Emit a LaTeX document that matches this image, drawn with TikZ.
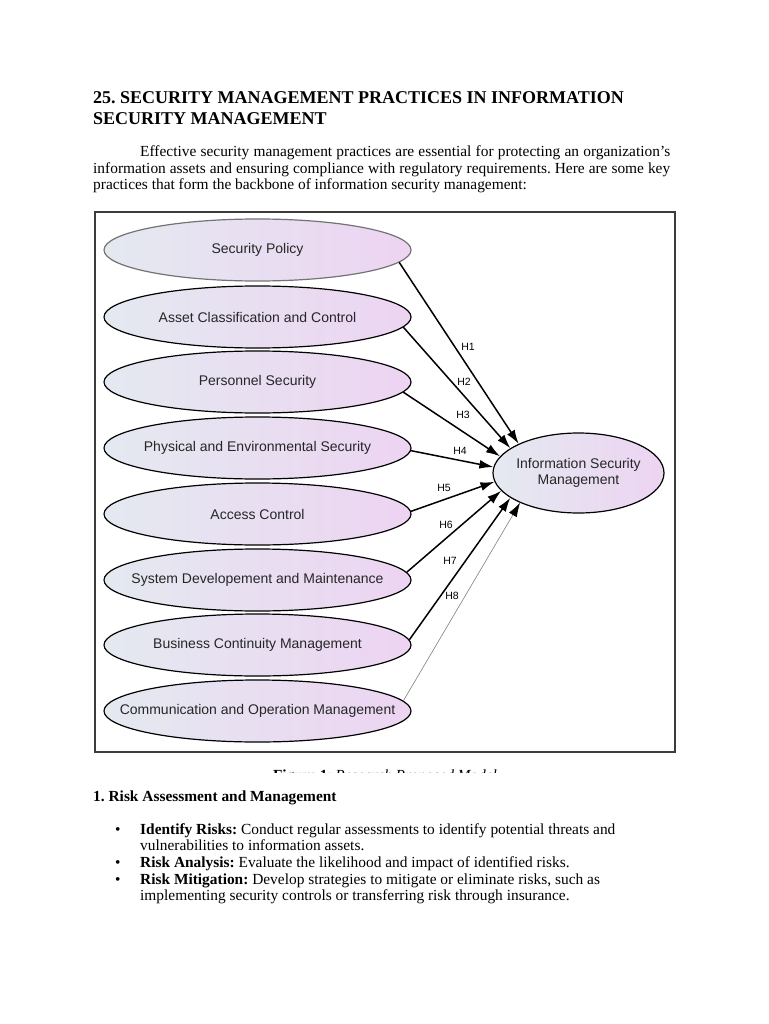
\documentclass[tikz,border=0pt]{standalone}
\usepackage{fontspec}
\setmainfont{Liberation Serif}
\newfontfamily\arialf{Liberation Sans}
\usetikzlibrary{shapes.geometric,arrows.meta}
\definecolor{lcol}{RGB}{228,233,240}
\definecolor{rcol}{RGB}{237,212,242}
\definecolor{boxcol}{RGB}{60,60,60}
\frenchspacing
\begin{document}
\begin{tikzpicture}[x=1pt,y=-1pt,
  body/.style={anchor=base west,inner sep=0,font=\fontsize{15.4}{17}\selectfont},
  ttl/.style={anchor=base west,inner sep=0,font=\fontsize{18}{21}\selectfont\bfseries},
  oval/.style={ellipse,draw=black,line width=1.2pt,minimum width=307pt,minimum height=62pt,inner sep=0,
    left color=lcol,right color=rcol,font=\arialf\fontsize{14}{16}\selectfont,text=black!85},
  bigoval/.style={ellipse,draw=black,line width=1.2pt,minimum width=171pt,minimum height=80pt,inner sep=0,
    left color=lcol,right color=rcol,font=\arialf\fontsize{14}{16}\selectfont,text=black!85,align=center},
  tip/.style={-{Latex[length=14pt,width=9pt,color=black]}},
  arr/.style={tip,line width=1.5pt},
  lbl/.style={inner sep=0,font=\arialf\fontsize{10.5}{12}\selectfont}]
\useasboundingbox[fill=white] (0,0) rectangle (768,1024);

% title
\node[ttl] (t1) at (93,104) {25. SECURITY MANAGEMENT PRACTICES IN INFORMATION};
\node[ttl] (t2) at (93,125) {SECURITY MANAGEMENT};

% paragraph
\node[body] (p1) at (140,157) {\makebox[530pt][s]{Effective security management practices are essential for protecting an organization’s}};
\node[body] (p2) at (93,173.5) {\makebox[577pt][s]{information assets and ensuring compliance with regulatory requirements. Here are some key}};
\node[body] (p3) at (93,190) {practices that form the backbone of information security management:};

% figure frame
\draw[boxcol,line width=2pt] (95,212) rectangle (675,752);

% ovals
\node[oval,draw=black!55] (sp) at (257.5,250) {\makebox[0pt]{Security Policy}};
\node[oval] (ac) at (257.5,317) {\makebox[0pt]{Asset Classification and Control}};
\node[oval] (ps) at (257.5,382) {\makebox[0pt]{Personnel Security}};
\node[oval] (pe) at (257.5,448) {\makebox[0pt]{Physical and Environmental Security}};
\node[oval] (acc) at (257.5,514) {\makebox[0pt]{Access Control}};
\node[oval] (sd) at (257.5,580) {\makebox[0pt]{System Developement and Maintenance}};
\node[oval] (bc) at (257.5,645) {\makebox[0pt]{Business Continuity Management}};
\node[oval] (co) at (257.5,711) {\makebox[0pt]{Communication and Operation Management}};
\node[bigoval] (ism) at (578.5,473) {\makebox[0pt]{Information Security}\\\makebox[0pt]{Management}};

% arrows
\draw[arr] (sp.-5) -- (ism.154);
\draw[arr] (ac.-4.5) -- (ism.160);
\draw[arr] (ps.-4) -- (ism.168);
\draw[arr] (pe.-1.5) -- (ism.176);
\draw[arr] (acc.1) -- (ism.186);
\draw[arr] (sd.3) -- (ism.193);
\draw[arr] (bc.2.5) -- (ism.200);
\draw[tip,line width=0.6pt,draw=black!50] (co.4.5) -- (ism.207);

% labels
\node[lbl] (h1) at (468,347) {H1};
\node[lbl] (h2) at (464,382) {H2};
\node[lbl] (h3) at (463,415) {H3};
\node[lbl] (h4) at (460,451) {H4};
\node[lbl] (h5) at (444,488) {H5};
\node[lbl] (h6) at (446,525) {H6};
\node[lbl] (h7) at (450,561) {H7};
\node[lbl] (h8) at (452,596) {H8};

% cut-off caption
\begin{scope}
\clip (200,760) rectangle (580,772.5);
\node[anchor=base,inner sep=0,font=\fontsize{15.4}{17}\selectfont] (cap) at (385,780) {\makebox[224pt][s]{\textbf{Figure 1}: \textit{Research Proposed Model}}};
\end{scope}

% section
\node[body,font=\fontsize{15.4}{17}\selectfont\bfseries] (s1) at (93,801) {1. Risk Assessment and Management};
\node[body] (d1) at (115,834) {•};
\node[body] (l1) at (140,834) {\textbf{Identify Risks:} Conduct regular assessments to identify potential threats and};
\node[body] (l2) at (140,850.5) {vulnerabilities to information assets.};
\node[body] (d2) at (115,867) {•};
\node[body] (l3) at (140,867) {\textbf{Risk Analysis:} Evaluate the likelihood and impact of identified risks.};
\node[body] (d3) at (115,884) {•};
\node[body] (l4) at (140,884) {\textbf{Risk Mitigation:} Develop strategies to mitigate or eliminate risks, such as};
\node[body] (l5) at (140,900.5) {implementing security controls or transferring risk through insurance.};
\end{tikzpicture}
\end{document}
